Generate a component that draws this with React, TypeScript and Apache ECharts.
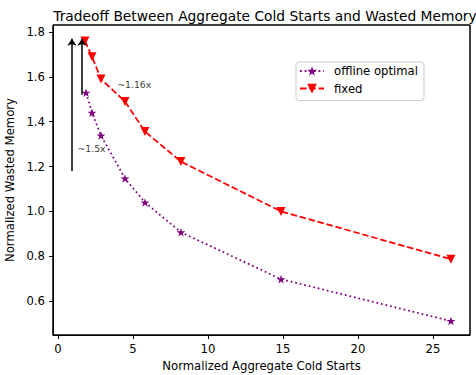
import React, { useEffect, useRef } from "react";
import * as echarts from "echarts";

const xFixed = [1.8, 2.27, 2.87, 4.47, 5.8, 8.2, 14.87, 26.2];
const yFixed = [1.76, 1.69, 1.59, 1.49, 1.356, 1.222, 1.0, 0.787];
const xOpt = [1.87, 2.27, 2.87, 4.47, 5.8, 8.2, 14.87, 26.2];
const yOpt = [1.529, 1.44, 1.338, 1.147, 1.04, 0.907, 0.698, 0.511];
const xTicks = [0, 5, 10, 15, 20, 25];
const yTicks = [0.6, 0.8, 1.0, 1.2, 1.4, 1.6, 1.8];
const arrows = [
  { x: 0.93, from: 1.18, to: 1.77 },
  { x: 1.6, from: 1.52, to: 1.77 },
];
const notes = [
  { x: 1.3, y: 1.28, text: "~1.5x" },
  { x: 3.95, y: 1.565, text: "~1.16x" },
];

const STAR =
  "path://M0,-1 L0.2245,-0.309 L0.951,-0.309 L0.363,0.118 L0.588,0.809 L0,0.382 L-0.588,0.809 L-0.363,0.118 L-0.951,-0.309 L-0.2245,-0.309 Z";
const FONT = "DejaVu Sans";
const FS = 11.67;
const X_MIN = -0.33;
const X_MAX = 27.47;
const Y_MIN = 0.449;
const Y_MAX = 1.831;
const FRAME = [
  [X_MIN, Y_MIN],
  [X_MIN, Y_MAX],
  [X_MAX, Y_MAX],
  [X_MAX, Y_MIN],
  [X_MIN, Y_MIN],
];

export default function App() {
  const ref = useRef<HTMLDivElement>(null);
  useEffect(() => {
    const chart = echarts.init(ref.current!, null, { renderer: "svg" });
    chart.setOption({
      animation: false,
      title: {
        text: "Tradeoff Between Aggregate Cold Starts and Wasted Memory",
        left: 260,
        textAlign: "center",
        top: 4,
        textStyle: { fontFamily: FONT, fontSize: 13.8, fontWeight: "normal", color: "#000" },
      },
      grid: {
        left: 53,
        top: 25,
        right: 6,
        bottom: 40,
        outerBoundsMode: "none",
        show: true,
        borderColor: "#000",
        borderWidth: 1,
      },
      legend: {
        data: ["offline optimal", "fixed"],
        orient: "vertical",
        left: 296,
        top: 62,
        padding: [3, 6, 6, 3],
        itemGap: 5.6,
        itemWidth: 24,
        itemHeight: 12,
        borderColor: "#ccc",
        borderWidth: 1,
        borderRadius: 3,
        textStyle: {
          fontFamily: FONT,
          fontSize: FS,
          lineHeight: 12,
          color: "#000",
          padding: [0, 0, 0, 5],
        },
      },
      xAxis: {
        type: "value",
        min: X_MIN,
        max: X_MAX,
        name: "Normalized Aggregate Cold Starts",
        nameLocation: "middle",
        nameGap: 25,
        nameTextStyle: { fontFamily: FONT, fontSize: FS, color: "#000" },
        splitLine: { show: false },
        axisLine: { show: true, onZero: false, lineStyle: { color: "#000", width: 1 } },
        axisTick: { show: true, length: 4, customValues: xTicks, lineStyle: { color: "#000" } },
        axisLabel: {
          customValues: xTicks,
          fontFamily: FONT,
          fontSize: FS,
          color: "#000",
          margin: 8,
        },
      },
      yAxis: {
        type: "value",
        min: Y_MIN,
        max: Y_MAX,
        name: "Normalized Wasted Memory",
        nameLocation: "middle",
        nameGap: 33,
        nameTextStyle: { fontFamily: FONT, fontSize: FS, color: "#000" },
        splitLine: { show: false },
        axisLine: { show: true, onZero: false, lineStyle: { color: "#000", width: 1 } },
        axisTick: { show: true, length: 4, customValues: yTicks, lineStyle: { color: "#000" } },
        axisLabel: {
          customValues: yTicks,
          fontFamily: FONT,
          fontSize: FS,
          color: "#000",
          margin: 8,
          formatter: (v: number) => v.toFixed(1),
        },
      },
      series: [
        {
          name: "frame",
          type: "line",
          data: FRAME,
          symbol: "none",
          clip: false,
          lineStyle: { color: "#000", width: 1 },
        },
        {
          name: "offline optimal",
          type: "line",
          data: xOpt.map((x, i) => [x, yOpt[i]]),
          symbol: STAR,
          symbolSize: 9,
          symbolKeepAspect: true,
          itemStyle: { color: "#800080" },
          lineStyle: { color: "#800080", type: [1.75, 2.9], width: 1.75 },
          emphasis: { disabled: true },
          z: 3,
        },
        {
          name: "fixed",
          type: "line",
          data: xFixed.map((x, i) => [x, yFixed[i]]),
          symbol: "triangle",
          symbolRotate: 180,
          symbolSize: 9,
          itemStyle: { color: "#ff0000" },
          lineStyle: { color: "#ff0000", type: [6.5, 2.8], width: 1.75 },
          emphasis: { disabled: true },
          z: 3,
        },
        {
          name: "arrows",
          type: "lines",
          coordinateSystem: "cartesian2d",
          data: arrows.map((a) => ({ coords: [[a.x, a.from], [a.x, a.to]] })),
          symbol: ["none", "arrow"],
          symbolSize: [0, 7],
          lineStyle: { color: "#000", width: 1.5, opacity: 1 },
          silent: true,
          z: 4,
        },
        {
          name: "notes",
          type: "scatter",
          data: notes.map((n) => ({ value: [n.x, n.y], name: n.text })),
          symbolSize: 0,
          silent: true,
          label: {
            show: true,
            position: "right",
            distance: 0,
            formatter: (p: any) => p.name,
            fontFamily: FONT,
            fontSize: 9.33,
            color: "#000",
          },
        },
      ],
    });
    return () => chart.dispose();
  }, []);
  return (
    <div
      ref={ref}
      style={{ position: "absolute", left: 0, top: 0, width: 476, height: 375, background: "#fff" }}
    />
  );
}
